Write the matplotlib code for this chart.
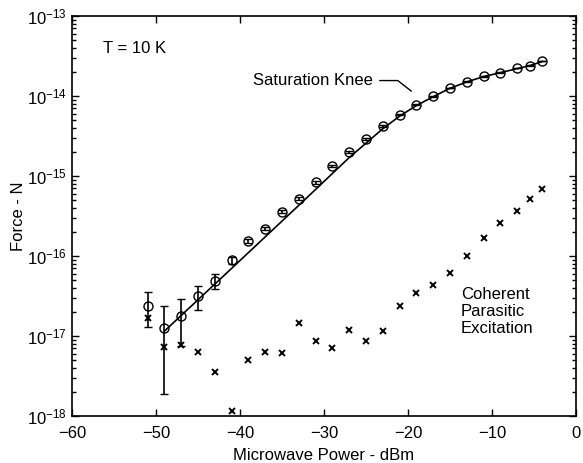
import numpy as np
import matplotlib
matplotlib.use("Agg")
import matplotlib.pyplot as plt
from matplotlib.ticker import LogLocator, NullFormatter, FixedLocator

plt.rcParams['font.family'] = ['Liberation Sans', 'DejaVu Sans']

# measured force (circles) with error bar bounds
circ_x = [-51, -49, -47, -45, -43, -41, -39, -37, -35, -33, -31, -29, -27,
          -25, -23, -21, -19, -17, -15, -13, -11, -9, -7, -5.5, -4]
circ_y = [2.4e-17, 1.27e-17, 1.8e-17, 3.2e-17, 4.9e-17, 8.8e-17, 1.55e-16,
          2.2e-16, 3.6e-16, 5.2e-16, 8.3e-16, 1.32e-15, 2.0e-15, 2.9e-15,
          4.2e-15, 5.85e-15, 7.8e-15, 9.9e-15, 1.26e-14, 1.51e-14, 1.76e-14,
          1.96e-14, 2.22e-14, 2.4e-14, 2.72e-14]
circ_lo = [1.3e-17, 1.9e-18, 7.4e-18, 2.1e-17, 3.9e-17, 8.0e-17, 1.45e-16,
           2.1e-16, 3.45e-16, 5.0e-16, 8.0e-16, 1.28e-15, 1.95e-15, 2.85e-15,
           4.1e-15, 5.75e-15, 7.7e-15, 9.8e-15, 1.25e-14, 1.5e-14, 1.75e-14,
           1.95e-14, 2.21e-14, 2.39e-14, 2.71e-14]
circ_hi = [3.5e-17, 2.35e-17, 2.9e-17, 4.2e-17, 6.0e-17, 9.6e-17, 1.65e-16,
           2.3e-16, 3.75e-16, 5.4e-16, 8.6e-16, 1.36e-15, 2.05e-15, 2.95e-15,
           4.3e-15, 5.95e-15, 7.9e-15, 1.0e-14, 1.27e-14, 1.52e-14, 1.77e-14,
           1.97e-14, 2.23e-14, 2.41e-14, 2.73e-14]

# coherent parasitic excitation (crosses)
cross_x = circ_x
cross_y = [1.66e-17, 7.3e-18, 7.8e-18, 6.4e-18, 3.6e-18, 1.17e-18, 5.0e-18,
           6.25e-18, 6.2e-18, 1.45e-17, 8.7e-18, 7.0e-18, 1.2e-17, 8.7e-18,
           1.17e-17, 2.4e-17, 3.4e-17, 4.3e-17, 6.1e-17, 1.0e-16, 1.7e-16,
           2.57e-16, 3.7e-16, 5.1e-16, 6.8e-16]

# fitted curve
fit_x = [-49, -41, -33, -27, -23, -21, -19, -17, -15, -13, -11, -9, -7, -5.5, -4]
fit_y = [1.15e-17, 7.0e-17, 4.3e-16, 1.7e-15, 3.9e-15, 5.6e-15, 7.6e-15,
         9.8e-15, 1.25e-14, 1.5e-14, 1.75e-14, 1.96e-14, 2.2e-14, 2.4e-14, 2.7e-14]

yticks = [1e-18, 1e-17, 1e-16, 1e-15, 1e-14, 1e-13]
xticks = [-60, -50, -40, -30, -20, -10, 0]

fs = 12

fig = plt.figure(figsize=(5.83, 4.63), dpi=100)
ax = fig.add_axes([0.1235, 0.1015, 0.8645, 0.8639])

cy = np.array(circ_y)
yerr = [cy - np.array(circ_lo), np.array(circ_hi) - cy]

ax.plot(fit_x, fit_y, color='black', lw=1.2)
ax.errorbar(circ_x, circ_y, yerr=yerr, fmt='o', mfc='none', mec='black',
            ms=6.5, mew=1.0, ecolor='black', elinewidth=1.2, capsize=3,
            capthick=1.2)
ax.plot(cross_x, cross_y, 'x', color='black', ms=4, mew=1.4)

ax.set_yscale('log')
ax.set_xlim(-60, 0)
ax.set_ylim(1e-18, 1e-13)
ax.set_xticks(xticks)
ax.yaxis.set_major_locator(FixedLocator(yticks))
ax.yaxis.set_minor_locator(LogLocator(base=10, subs=np.arange(2, 10), numticks=10))
ax.yaxis.set_minor_formatter(NullFormatter())
ax.tick_params(which='both', direction='in', top=True, right=True,
               labelsize=fs, width=1)
ax.tick_params(which='major', length=5)
ax.tick_params(which='minor', length=3)
ax.tick_params(axis='x', pad=7)
for s in ax.spines.values():
    s.set_linewidth(1.2)

ax.set_xlabel('Microwave Power - dBm', fontsize=fs, labelpad=5)
ax.set_ylabel('Force - N', fontsize=fs, labelpad=1)

ax.text(-56.3, 3.95e-14, 'T = 10 K', fontsize=fs, va='center')
ax.text(-13.7, 2.03e-17, 'Coherent\nParasitic\nExcitation', fontsize=fs,
        va='center', linespacing=1.15)
ax.annotate('Saturation Knee', xy=(-19.6, 1.15e-14), xytext=(-24.2, 1.56e-14),
            fontsize=fs, ha='right', va='center',
            arrowprops=dict(arrowstyle='-', color='black', lw=1,
                            connectionstyle='angle,angleA=0,angleB=-38,rad=0',
                            shrinkA=3, shrinkB=0))

fig.savefig('out.png', dpi=100)
